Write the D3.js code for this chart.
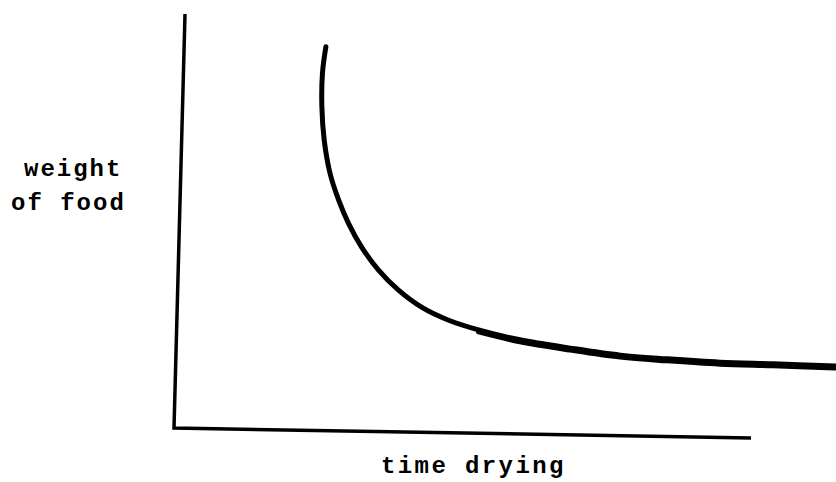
<!DOCTYPE html>
<html>
<head>
<meta charset="utf-8">
<script src="https://cdn.jsdelivr.net/npm/d3@7/dist/d3.min.js"></script>
<style>
  html, body { margin: 0; padding: 0; background: #fff; }
  svg { display: block; }
  .lbl { font-family: "Liberation Mono", "Courier New", monospace; font-weight: bold; fill: #000; }
</style>
</head>
<body>
<svg id="chart" width="836" height="482"></svg>
<script>
// Drying curve: relative time vs. relative weight (arbitrary units)
const timeDrying = [2.62, 2.56, 2.55, 2.59, 2.69, 2.84, 3.01, 3.24, 3.53, 3.88, 4.28, 4.74, 5.27, 5.99, 6.86, 7.73, 8.54, 9.46, 10.38, 11.46];
const weightOfFood = [9.21, 8.57, 7.75, 6.96, 6.16, 5.51, 4.95, 4.37, 3.82, 3.33, 2.92, 2.61, 2.37, 2.13, 1.93, 1.76, 1.67, 1.59, 1.55, 1.50];
const yLabelLines = ["weight", "of food"];
const xLabel = "time drying";

const svg = d3.select("#chart");

const x = d3.scaleLinear().domain([0, 10]).range([175, 751]);
const y = d3.scaleLinear().domain([0, 10]).range([428, 14]);

// hand-drawn axes lean slightly
const yLean = 10, xDrop = 10;

svg.append("path")
  .attr("d", `M${x(0) + yLean},${y(10)} L${x(0) - 1},${y(0)} L${x(10)},${y(0) + xDrop}`)
  .attr("fill", "none")
  .attr("stroke", "#000")
  .attr("stroke-width", 3.5)
  .attr("stroke-linejoin", "miter");

const pts = timeDrying.map((t, i) => ({ t, w: weightOfFood[i] }));

const line = d3.line()
  .x(d => x(d.t))
  .y(d => y(d.w))
  .curve(d3.curveCatmullRom.alpha(0.5));

svg.append("path")
  .datum(pts)
  .attr("d", line)
  .attr("fill", "none")
  .attr("stroke", "#000")
  .attr("stroke-width", 5)
  .attr("stroke-linecap", "round");

// heavier ink along the flat tail
svg.append("path")
  .datum(pts.filter(d => d.t >= 5.2))
  .attr("d", line)
  .attr("transform", "translate(0,2)")
  .attr("fill", "none")
  .attr("stroke", "#000")
  .attr("stroke-width", 5)
  .attr("stroke-linecap", "round");

// axis titles
svg.append("text").attr("class", "lbl")
  .attr("x", 24).attr("y", 176)
  .style("font-size", "24px").style("letter-spacing", "2px")
  .text(yLabelLines[0]);
svg.append("text").attr("class", "lbl")
  .attr("x", 11).attr("y", 210)
  .style("font-size", "24px").style("letter-spacing", "2px")
  .text(yLabelLines[1]);
svg.append("text").attr("class", "lbl")
  .attr("x", 381).attr("y", 473)
  .style("font-size", "24px").style("letter-spacing", "2.4px")
  .text(xLabel);
</script>
</body>
</html>
